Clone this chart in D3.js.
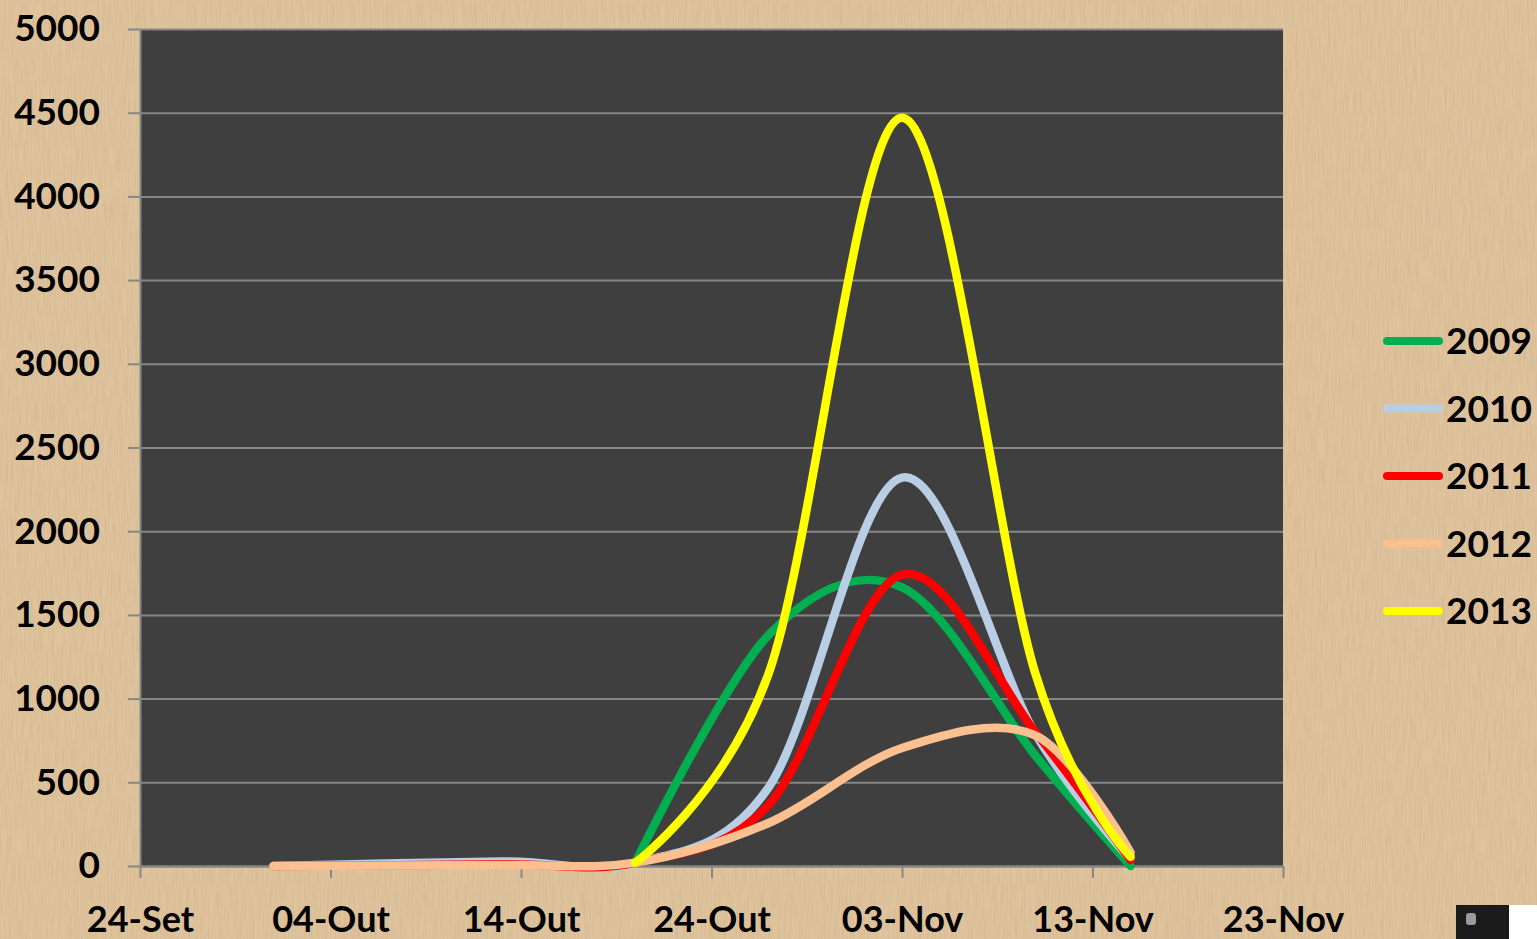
<!DOCTYPE html>
<html>
<head>
<meta charset="utf-8">
<script src="https://cdn.jsdelivr.net/npm/d3@7"></script>
<style>
  body { margin: 0; background: #dcbf98; }
  svg { display: block; }
  .axis text { font-family: Lato, "Open Sans", sans-serif; font-weight: bold; fill: #000; }
</style>
</head>
<body>
<div id="chart"></div>
<script>
// Chart data
var dates = ["2013-10-01", "2013-10-13", "2013-10-20", "2013-10-27", "2013-11-03", "2013-11-10", "2013-11-15"];
var years = ["2009", "2010", "2011", "2012", "2013"];
var s2009 = [null, null, 20, 1380, 1665, 660, 0];
var s2010 = [0, 27, 18, 470, 2320, 790, 40];
var s2011 = [0, 10, 20, 365, 1740, 800, 35];
var s2012 = [0, 6, 20, 257, 705, 780, 80];
var s2013 = [null, null, 20, 1150, 4470, 1150, 55];
var colors = ["#00b050", "#b9cde5", "#ff0000", "#fac090", "#ffff00"];

var yTicks = [0, 500, 1000, 1500, 2000, 2500, 3000, 3500, 4000, 4500, 5000];
var xTickDates = ["2013-09-24", "2013-10-04", "2013-10-14", "2013-10-24", "2013-11-03", "2013-11-13", "2013-11-23"];
var xTickLabels = ["24-Set", "04-Out", "14-Out", "24-Out", "03-Nov", "13-Nov", "23-Nov"];

var svgWidth = 1537;
var svgHeight = 939;

var margin = { top: 29, right: 254, bottom: 73, left: 140 };
var width = svgWidth - margin.left - margin.right;
var height = svgHeight - margin.top - margin.bottom;

var parseDate = d3.utcParse("%Y-%m-%d");

var svg = d3.select("#chart")
  .append("svg")
  .attr("width", svgWidth)
  .attr("height", svgHeight);

// cardboard texture
var defs = svg.append("defs");
var filter = defs.append("filter")
  .attr("id", "paper")
  .attr("x", 0).attr("y", 0).attr("width", "100%").attr("height", "100%");
filter.append("feTurbulence")
  .attr("type", "fractalNoise")
  .attr("baseFrequency", "0.7 0.035")
  .attr("numOctaves", 2)
  .attr("seed", 4);
filter.append("feColorMatrix")
  .attr("type", "matrix")
  .attr("values", "0 0 0 0 0.45  0 0 0 0 0.32  0 0 0 0 0.18  0.5 0 0 0 -0.17");

svg.append("rect")
  .attr("width", svgWidth)
  .attr("height", svgHeight)
  .attr("fill", "#e0c49e");
svg.append("rect")
  .attr("width", svgWidth)
  .attr("height", svgHeight)
  .attr("filter", "url(#paper)");

var chartGroup = svg.append("g")
  .attr("transform", `translate(${margin.left}, ${margin.top})`);

// scales
var xScale = d3.scaleUtc()
  .domain([parseDate(xTickDates[0]), parseDate(xTickDates[xTickDates.length - 1])])
  .range([0, width]);

var yScale = d3.scaleLinear()
  .domain([0, 5000])
  .range([height, 0]);

// plot background
chartGroup.append("rect")
  .attr("width", width)
  .attr("height", height)
  .attr("fill", "#3f3f3f");

// gridlines
chartGroup.append("g")
  .attr("class", "grid")
  .call(d3.axisLeft(yScale).tickValues(yTicks).tickSize(-width).tickFormat(""))
  .call(g => g.select(".domain").remove())
  .selectAll("line")
  .attr("stroke", "#878787")
  .attr("stroke-width", 2);

// y axis
var leftAxis = d3.axisLeft(yScale)
  .tickValues(yTicks)
  .tickFormat(d3.format("d"))
  .tickSize(12)
  .tickSizeOuter(0)
  .tickPadding(28);

chartGroup.append("g")
  .attr("class", "axis")
  .call(leftAxis)
  .call(g => g.selectAll("line, path").attr("stroke", "#878787").attr("stroke-width", 2))
  .selectAll("text")
  .style("font-size", "37px");

// x axis
var bottomAxis = d3.axisBottom(xScale)
  .tickValues(xTickDates.map(parseDate))
  .tickSize(12)
  .tickSizeOuter(0)
  .tickFormat((d, i) => xTickLabels[i]);

chartGroup.append("g")
  .attr("class", "axis")
  .attr("transform", `translate(0, ${height})`)
  .call(bottomAxis)
  .call(g => g.selectAll("line, path").attr("stroke", "#878787").attr("stroke-width", 2))
  .selectAll("text")
  .attr("y", 66)
  .attr("dy", null)
  .style("font-size", "36px");

// lines
var allSeries = [s2009, s2010, s2011, s2012, s2013];

var line = d3.line()
  .defined(d => d.value !== null)
  .x(d => xScale(d.date))
  .y(d => yScale(d.value))
  .curve(d3.curveCardinal.tension(0));

allSeries.forEach(function (values, i) {
  var points = values.map((v, j) => ({ date: parseDate(dates[j]), value: v }));
  chartGroup.append("path")
    .datum(points)
    .attr("fill", "none")
    .attr("stroke", colors[i])
    .attr("stroke-width", 8.5)
    .attr("stroke-linecap", "round")
    .attr("stroke-linejoin", "round")
    .attr("d", line);
});

// legend
var legend = svg.append("g")
  .attr("class", "axis")
  .attr("transform", "translate(1383, 341)");

var legendItems = legend.selectAll("g")
  .data(years)
  .enter()
  .append("g")
  .attr("transform", (d, i) => `translate(0, ${i * 67.5})`);

legendItems.append("line")
  .attr("x1", 4)
  .attr("x2", 56)
  .attr("stroke", (d, i) => colors[i])
  .attr("stroke-width", 8)
  .attr("stroke-linecap", "round");

legendItems.append("text")
  .attr("x", 63)
  .attr("dy", "0.36em")
  .style("font-size", "37px")
  .text(d => d);

// small logo in the corner
var logo = svg.append("g").attr("transform", "translate(1456, 905)");
logo.append("rect").attr("width", 53).attr("height", 34).attr("fill", "#1b1b1b");
logo.append("rect").attr("x", 53).attr("width", 28).attr("height", 34).attr("fill", "#ffffff");
logo.append("rect").attr("x", 10).attr("y", 8).attr("width", 10).attr("height", 12).attr("rx", 3).attr("fill", "#9a9a9a");
</script>
</body>
</html>
